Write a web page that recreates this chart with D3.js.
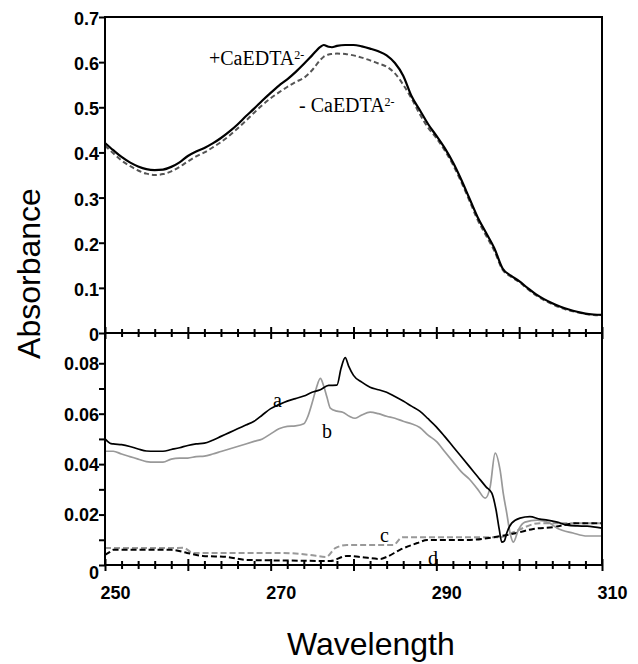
<!DOCTYPE html>
<html><head><meta charset="utf-8">
<script src="https://cdn.jsdelivr.net/npm/d3@7"></script>
<style>body{margin:0;background:#fff}</style>
</head><body>
<svg id="chart" width="638" height="664"></svg>
<script>
// ---------- DATA ----------
// Top panel (absorbance spectra)
const topWl    = [250,251,252,253,254,255,256,257,258,259,260,261,262,263,264,265,266,267,268,269,270,271,272,273,274,275,276,276.4,277,277.4,278,279,280,281,282,283,284,285,286,287,288,289,290,291,292,293,294,295,296,297,298,299,300,301,302,303,304,305,306,307,308,309,310];
const topPlus  = [0.421,0.405,0.390,0.378,0.369,0.363,0.361,0.362,0.368,0.378,0.392,0.402,0.410,0.420,0.432,0.446,0.462,0.480,0.497,0.515,0.532,0.548,0.562,0.578,0.596,0.615,0.634,0.638,0.634,0.633,0.636,0.638,0.638,0.635,0.630,0.624,0.615,0.598,0.570,0.525,0.494,0.463,0.437,0.410,0.378,0.340,0.298,0.256,0.222,0.188,0.143,0.127,0.115,0.100,0.086,0.075,0.066,0.058,0.052,0.047,0.043,0.041,0.040];
const topMinus = [0.415,0.398,0.382,0.370,0.360,0.353,0.350,0.352,0.358,0.368,0.380,0.391,0.400,0.411,0.423,0.437,0.453,0.470,0.488,0.505,0.520,0.533,0.545,0.556,0.565,0.582,0.605,0.612,0.617,0.618,0.619,0.618,0.615,0.610,0.604,0.597,0.590,0.575,0.550,0.520,0.485,0.455,0.432,0.405,0.373,0.335,0.293,0.250,0.216,0.182,0.140,0.125,0.113,0.098,0.084,0.073,0.064,0.056,0.050,0.046,0.042,0.040,0.039];

// Bottom panel (difference spectra)
const aWl  = [250,250.6,251,252,253,254,255,256,257,258,259,260,261,262,263,264,265,266,267,268,269,270,271,272,273,274,275,276,277,278,278.5,279,279.4,280,281,282,283,284,285,286,287,288,289,290,291,292,293,294,295,296,296.7,297.2,297.6,297.9,298.2,298.5,299.1,300.1,301.3,302.5,303.4,304.6,305.8,307,308.2,310];
const aVal = [0.0500,0.0483,0.0480,0.0477,0.0470,0.0460,0.0452,0.0451,0.0451,0.0458,0.0465,0.0474,0.0480,0.0483,0.0495,0.0510,0.0525,0.0540,0.0555,0.0570,0.0595,0.0620,0.0636,0.0650,0.0660,0.0670,0.0685,0.0695,0.0712,0.0713,0.0780,0.0822,0.0790,0.0752,0.0725,0.0705,0.0695,0.0685,0.0668,0.0650,0.0630,0.0610,0.0580,0.0548,0.0510,0.0470,0.0430,0.0390,0.0350,0.0310,0.0285,0.0220,0.0140,0.0091,0.0095,0.0127,0.0166,0.0186,0.0192,0.0182,0.0178,0.0170,0.0158,0.0155,0.0154,0.0146];

const bWl  = [250,251,252,253,254,255,256,257,258,259,260,261,262,263,264,265,266,267,268,269,270,271,272,273,274,274.5,275,275.5,276,276.4,276.8,277.2,278,278.7,279.5,280.2,281,282,283,284,285,286,287,288,289,290,291,292,293,294,295,295.9,296.5,297.1,297.7,298.1,298.5,298.9,299.3,299.9,300.7,302.2,303.7,304.6,306.5,308.2,310];
const bVal = [0.0451,0.0451,0.0440,0.0430,0.0420,0.0410,0.0408,0.0408,0.0420,0.0424,0.0424,0.0430,0.0432,0.0440,0.0450,0.0460,0.0470,0.0480,0.0490,0.0500,0.0520,0.0540,0.0550,0.0552,0.0560,0.0590,0.0642,0.0700,0.0740,0.0710,0.0665,0.0622,0.0610,0.0606,0.0590,0.0582,0.0595,0.0606,0.0600,0.0590,0.0582,0.0570,0.0560,0.0545,0.0515,0.0490,0.0450,0.0410,0.0370,0.0340,0.0300,0.0265,0.0310,0.0444,0.0376,0.0280,0.0206,0.0127,0.0091,0.0139,0.0170,0.0178,0.0166,0.0146,0.0127,0.0115,0.0115];

const cWl  = [250,257.8,259.5,260.6,268.7,271.1,274.7,276.7,277.8,279.2,284.8,285.9,292.9,297.7,299.3,302.5,310];
const cVal = [0.0067,0.0067,0.0068,0.0048,0.0048,0.0048,0.0040,0.0032,0.0067,0.0079,0.0079,0.0110,0.0110,0.0110,0.0130,0.0166,0.0166];

const dWl  = [250,250.5,251,258,259.9,261.8,264.7,267.1,271.1,277.2,279.2,280.8,283.2,284,285.6,287.7,288.9,293.7,296.9,299.7,301.7,304.1,307,310];
const dVal = [0.0040,0.0050,0.0060,0.0060,0.0048,0.0036,0.0032,0.0020,0.0018,0.0016,0.0036,0.0032,0.0024,0.0032,0.0060,0.0087,0.0099,0.0099,0.0110,0.0127,0.0143,0.0150,0.0166,0.0166];

const topTicks    = [0,0.1,0.2,0.3,0.4,0.5,0.6,0.7];
const bottomTicks = [0,0.01,0.02,0.03,0.04,0.05,0.06,0.07,0.08];
const bottomLabels = [0,0.02,0.04,0.06,0.08];
const xLabels = [250,270,290,310];

// ---------- CHART ----------
const svg = d3.select("#chart");
const X0 = 105, X1 = 602, TOPY = 17, MIDY = 333, BOTY = 565;

const x = d3.scaleLinear().domain([250,310]).range([X0,X1]);
const yTop = d3.scaleLinear().domain([0,0.7]).range([MIDY,TOPY]);
const yBot = d3.scaleLinear().domain([0,0.092]).range([BOTY,MIDY]);

const zip = (w,v) => w.map((d,i)=>[d,v[i]]);

const lineTop = d3.line().x(d=>x(d[0])).y(d=>yTop(d[1])).curve(d3.curveMonotoneX);
const lineBot = d3.line().x(d=>x(d[0])).y(d=>yBot(d[1])).curve(d3.curveMonotoneX);

// bottom panel curves
const gB = svg.append("g");
gB.append("path").attr("d",lineBot(zip(cWl,cVal))).attr("fill","none").attr("stroke","#999").attr("stroke-width",2).attr("stroke-dasharray","6,3");
gB.append("path").attr("d",lineBot(zip(dWl,dVal))).attr("fill","none").attr("stroke","#000").attr("stroke-width",2).attr("stroke-dasharray","6,3");
gB.append("path").attr("d",lineBot(zip(bWl,bVal))).attr("fill","none").attr("stroke","#999").attr("stroke-width",1.7);
gB.append("path").attr("d",lineBot(zip(aWl,aVal))).attr("fill","none").attr("stroke","#000").attr("stroke-width",1.7);

// top panel curves
const gT = svg.append("g");
gT.append("path").attr("d",lineTop(zip(topWl,topMinus))).attr("fill","none").attr("stroke","#555").attr("stroke-width",2).attr("stroke-dasharray","5,3");
gT.append("path").attr("d",lineTop(zip(topWl,topPlus))).attr("fill","none").attr("stroke","#000").attr("stroke-width",2.2);

// axes
const tickFont = "Liberation Sans, Arial, sans-serif";
function styleAxis(g){
  g.selectAll("line,path").attr("stroke","#000").attr("stroke-width",2);
  g.selectAll("text").attr("font-family",tickFont).attr("font-size",18).attr("font-weight","bold").attr("fill","#000");
}

// left y axes
svg.append("g").attr("transform",`translate(${X0},0)`)
  .call(d3.axisLeft(yTop).tickValues(topTicks).tickSize(6).tickSizeOuter(0).tickPadding(0)
        .tickFormat(d=> d===0 ? "0" : d3.format(".1f")(d)))
  .call(styleAxis)
  .call(g=>g.select(".domain").remove())
  .call(g=>g.selectAll("text").attr("dy","0.42em"));

svg.append("g").attr("transform",`translate(${X0},0)`)
  .call(d3.axisLeft(yBot).tickValues(bottomTicks).tickSize(6).tickSizeOuter(0).tickPadding(0)
        .tickFormat(d=> bottomLabels.some(v=>Math.abs(v-d)<1e-9) ? (d===0 ? "0" : d3.format(".2f")(d)) : ""))
  .call(styleAxis)
  .call(g=>g.select(".domain").remove())
  .call(g=>g.selectAll("text").attr("dy",d=> d===0 ? "0.75em" : "0.35em"));

// x axes (crossing ticks) at the middle and bottom
const xTicks = d3.range(250,311,2);
[MIDY,BOTY].forEach((yy,k)=>{
  const g = svg.append("g").attr("transform",`translate(0,${yy})`)
    .call(d3.axisBottom(x).tickValues(xTicks).tickSizeOuter(0)
          .tickFormat(d=> k===1 && xLabels.includes(d) ? d : ""))
    .call(styleAxis)
    .call(g=>g.select(".domain").remove());
  g.selectAll(".tick line").attr("y1",d=> d%10===0 ? -6 : -4).attr("y2",d=> d%10===0 ? 6 : 4);
  g.selectAll(".tick text").attr("x",10).attr("y",21).attr("dy","0.71em");
});

// frame lines
const frame = svg.append("g").attr("stroke","#000").attr("stroke-width",2).attr("fill","none");
frame.append("line").attr("x1",X0).attr("x2",X0).attr("y1",TOPY-1).attr("y2",BOTY+1);
frame.append("line").attr("x1",X1).attr("x2",X1).attr("y1",TOPY-1).attr("y2",BOTY+1);
frame.append("line").attr("x1",X0).attr("x2",X1).attr("y1",TOPY).attr("y2",TOPY);
frame.append("line").attr("x1",X0).attr("x2",X1).attr("y1",MIDY).attr("y2",MIDY);
frame.append("line").attr("x1",X0).attr("x2",X1).attr("y1",BOTY).attr("y2",BOTY);

// annotations
const serif = "Liberation Serif, Times New Roman, serif";
function superLabel(xp, yp, main, sup){
  const t = svg.append("text").attr("x",xp).attr("y",yp).attr("font-family",serif).attr("font-size",20).attr("fill","#000");
  t.append("tspan").text(main);
  t.append("tspan").attr("font-size",12).attr("dy",-6).text(sup);
}
superLabel(209,65,"+CaEDTA","2-");
superLabel(299,112,"- CaEDTA","2-");

const letters = [["a",273,407],["b",322,438],["c",380,542],["d",428,565]];
letters.forEach(([s,xp,yp])=>{
  svg.append("text").attr("x",xp).attr("y",yp).attr("font-family",serif).attr("font-size",20).attr("fill","#000").text(s);
});

// axis titles
svg.append("text").attr("transform","translate(40,273.5) rotate(-90)").attr("text-anchor","middle")
  .attr("font-family",tickFont).attr("font-size",32).attr("fill","#000").text("Absorbance");
svg.append("text").attr("x",287).attr("y",655)
  .attr("font-family",tickFont).attr("font-size",32).attr("fill","#000").text("Wavelength");
</script>
</body></html>
